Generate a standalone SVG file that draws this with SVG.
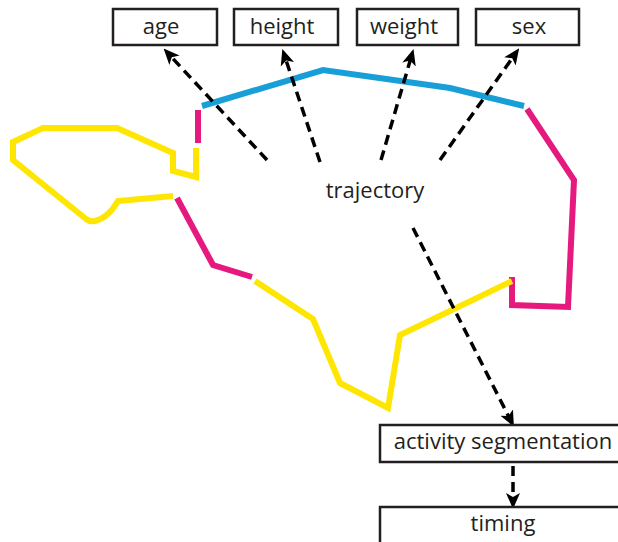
<svg xmlns="http://www.w3.org/2000/svg" width="618" height="542" viewBox="0 0 618 542">
<style>
.box{fill:#fff;stroke:#231f20;stroke-width:2.5}
.lbl{font-family:"Open Sans","Liberation Sans",sans-serif;font-size:22px;font-weight:500;fill:#231f20;text-anchor:middle}
.con{fill:none;stroke:#000;stroke-width:3.5;stroke-dasharray:10 6}
.seg{fill:none;stroke-width:6;stroke-linejoin:miter;stroke-linecap:butt}
.y{stroke:#ffe600}
.m{stroke:#e5197e}
.b{stroke:#189fd8}
</style>
<defs>
<marker id="ah" viewBox="0 -8 16 16" refX="6" refY="0" markerWidth="16" markerHeight="16" markerUnits="userSpaceOnUse" orient="auto">
<path d="M0,-7 L16,0 L0,7 L4,0 Z" fill="#000"/>
</marker>
</defs>
<g id="trajectory-path">
<path class="seg b" d="M202,106 L323,70 L450,88 L524,106"/>
<path class="seg m" d="M527,109 L574,180 L568,307 L512,305 L512,277"/>
<path class="seg y" d="M512,281 L400,335 L388,408 L340,383 L313,319 L255,281"/>
<path class="seg m" d="M252,277 L213,265 L177,198"/>
<path class="seg y" d="M173,196 L118,201 Q108,218 95,221 Q90,222 86,219 L13,160 L13,142 L43,128 L117,128 L173,153 L173,171 L196,177 L196,148"/>
<path class="seg m" d="M198,110 L198,143"/>
</g>
<g id="connectors">
<path class="con" d="M267,160 L170.4,55.9" marker-end="url(#ah)"/>
<path class="con" d="M320,162 L285.5,58.6" marker-end="url(#ah)"/>
<path class="con" d="M381,160 L410.7,58.7" marker-end="url(#ah)"/>
<path class="con" d="M440,160 L513.4,56.5" marker-end="url(#ah)"/>
<path class="con" d="M413,228 L509.4,417.9" marker-end="url(#ah)"/>
<path class="con" d="M513,466 L513,499" marker-end="url(#ah)"/>
</g>
<g id="age"><rect class="box" x="113" y="9" width="104" height="36"/><text class="lbl" x="161" y="34">age</text></g>
<g id="height"><rect class="box" x="234" y="9" width="104" height="36"/><text class="lbl" x="282" y="34">height</text></g>
<g id="weight"><rect class="box" x="357" y="9" width="101" height="36"/><text class="lbl" x="404" y="34">weight</text></g>
<g id="sex"><rect class="box" x="476" y="9" width="103" height="36"/><text class="lbl" x="529" y="34">sex</text></g>
<g id="trajectory"><text class="lbl" x="375" y="198">trajectory</text></g>
<g id="activity-segmentation"><rect class="box" x="380" y="425" width="250" height="37"/><text class="lbl" x="503" y="449">activity segmentation</text></g>
<g id="timing"><rect class="box" x="380" y="507" width="250" height="40"/><text class="lbl" x="503" y="531">timing</text></g>
</svg>
